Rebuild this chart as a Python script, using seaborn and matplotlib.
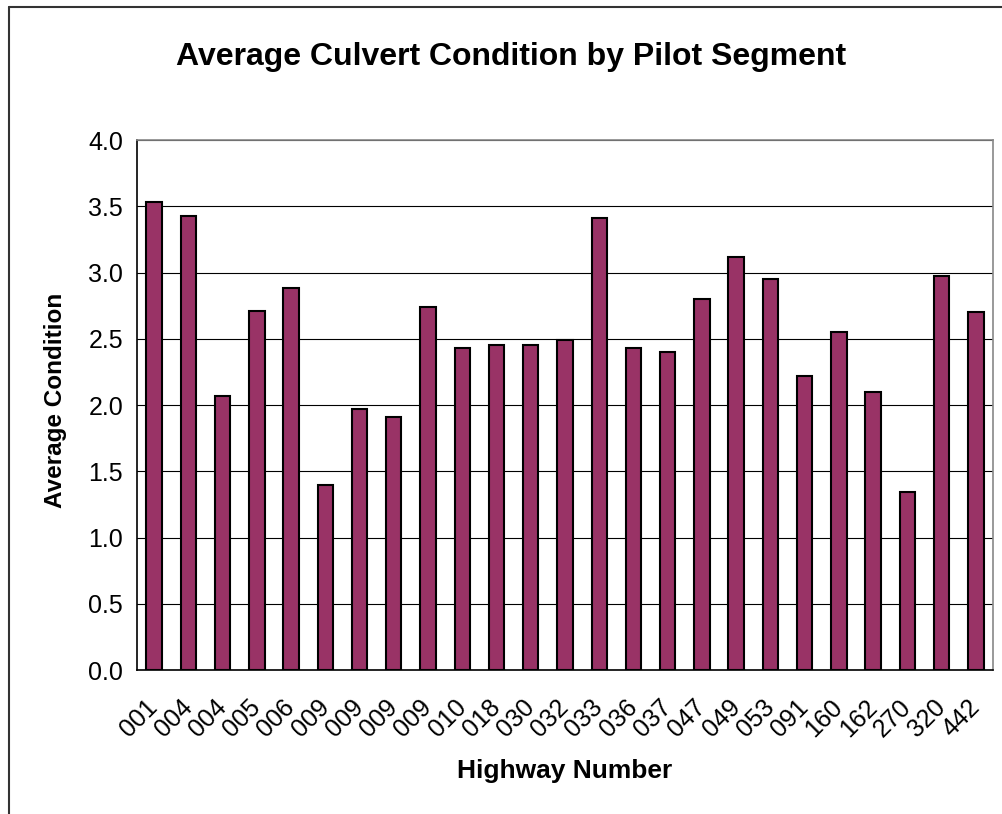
import numpy as np
import pandas as pd
import seaborn as sns
import matplotlib.pyplot as plt
import matplotlib.transforms as mtransforms
from matplotlib.lines import Line2D

highways = ['001', '004', '004', '005', '006', '009', '009', '009', '009', '010',
            '018', '030', '032', '033', '036', '037', '047', '049', '053', '091',
            '160', '162', '270', '320', '442']
avg_condition = [3.53, 3.43, 2.07, 2.71, 2.88, 1.40, 1.97, 1.91, 2.74, 2.43,
                 2.45, 2.45, 2.49, 3.41, 2.43, 2.40, 2.80, 3.12, 2.95, 2.22,
                 2.55, 2.10, 1.34, 2.97, 2.70]
y_ticks = [0.0, 0.5, 1.0, 1.5, 2.0, 2.5, 3.0, 3.5, 4.0]

df = pd.DataFrame({'pos': range(len(highways)), 'highway': highways, 'cond': avg_condition})

sns.set_style('white')
plt.rcParams['font.family'] = ['Liberation Sans', 'DejaVu Sans']
plt.rcParams.update({'text.color': 'black', 'axes.labelcolor': 'black',
                     'xtick.color': 'black', 'ytick.color': 'black'})

fig = plt.figure(figsize=(10.02, 8.14), dpi=100)
ax = fig.add_axes([0.1367, 0.1769, 0.8543, 0.6511])

sns.barplot(data=df, x='pos', y='cond', color='#993366', saturation=1,
            width=0.45, edgecolor='black', linewidth=1.5, ax=ax, zorder=3)

ax.set_ylim(0, 4.0)
ax.set_xlim(-0.5, len(highways) - 0.5)
ax.set_yticks(y_ticks)
ax.set_yticklabels([f'{v:.1f}' for v in y_ticks], fontsize=18)
ax.set_xticks(np.arange(len(highways) + 1) - 0.5, minor=False)
ax.set_xticklabels([])
ax.set_xticks(np.arange(len(highways)), minor=True)
ax.set_xticklabels(highways, minor=True, rotation=45, ha='right', va='center',
                   rotation_mode='anchor', fontsize=18)
# nudge rotated labels slightly left, like the original
shift = mtransforms.ScaledTranslation(-6 / 100, 0, fig.dpi_scale_trans)
for lbl in ax.get_xticklabels(minor=True):
    lbl.set_transform(lbl.get_transform() + shift)
ax.tick_params(axis='x', which='minor', length=0, pad=24)
ax.tick_params(axis='x', which='major', length=7, width=1, color='black', direction='out')
ax.tick_params(axis='y', length=7, width=1, color='black', direction='out', pad=3)
ax.grid(axis='y', color='black', linewidth=0.8, zorder=0)
ax.set_axisbelow(True)

for s in ['left', 'bottom']:
    ax.spines[s].set_color('black')
    ax.spines[s].set_linewidth(1.2)
for s in ['top', 'right']:
    ax.spines[s].set_color('#888888')
    ax.spines[s].set_linewidth(1.2)

ax.set_xlabel('Highway Number', fontsize=19, fontweight='bold')
ax.xaxis.set_label_coords(0.5, -0.19)
ax.xaxis.label.set_va('center')
ax.set_ylabel('Average Condition', fontsize=17.5, fontweight='bold')
ax.yaxis.set_label_coords(-0.095, 0.508)
ax.yaxis.label.set_va('center')
fig.text(0.51, 0.93, 'Average Culvert Condition by Pilot Segment',
         ha='center', va='center', fontsize=23, fontweight='bold')

# outer chart frame (left and top edges visible)
fig.add_artist(Line2D([0.009, 0.009], [0.0, 0.9914], transform=fig.transFigure,
                      color='#333333', linewidth=1.5))
fig.add_artist(Line2D([0.009, 1.0], [0.9914, 0.9914], transform=fig.transFigure,
                      color='#333333', linewidth=1.5))

fig.savefig('out.png', dpi=100)
